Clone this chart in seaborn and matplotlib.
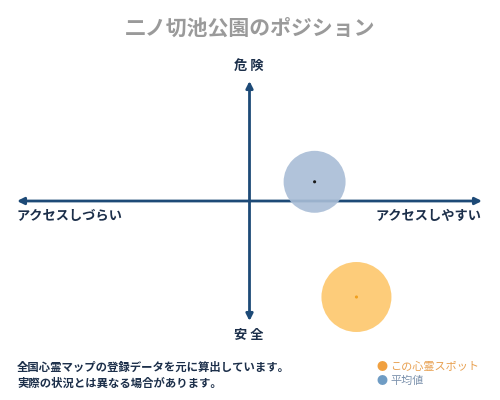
import matplotlib
matplotlib.use("Agg")
import matplotlib.pyplot as plt
import seaborn as sns
import pandas as pd

sns.set_theme(style="white")
plt.rcParams['font.family'] = ['Noto Sans CJK JP', 'DejaVu Sans']

# data
series = ["平均値", "この心霊スポット"]
access = [28, 46]        # -100 = アクセスしづらい, 100 = アクセスしやすい
danger = [16, -80]       # -100 = 安全, 100 = 危険
bubble = [1990, 2540]    # marker area (pt^2)
fill_colors = ["#a9bdd6", "#fdc76c"]
dot_colors = ["#1a1a1a", "#f0a020"]

title = "二ノ切池公園のポジション"
x_labels = ["アクセスしづらい", "アクセスしやすい"]
y_labels = ["安 全", "危 険"]
notes = ["全国心霊マップの登録データを元に算出しています。",
         "実際の状況とは異なる場合があります。"]

df = pd.DataFrame({"series": series, "x": access, "y": danger, "s": bubble})

fig = plt.figure(figsize=(5, 4), dpi=100)
ax = fig.add_axes([17/500, 79/400, 465/500, 240/400])
ax.set_xlim(-100, 100)
ax.set_ylim(-100, 100)
ax.axis("off")

navy = "#1d4a77"
ax.annotate("", xy=(100, 0), xytext=(-100, 0),
            arrowprops=dict(arrowstyle="<|-|>", color=navy, lw=2,
                            mutation_scale=10, shrinkA=0, shrinkB=0))
ax.annotate("", xy=(0, 100), xytext=(0, -100),
            arrowprops=dict(arrowstyle="<|-|>", color=navy, lw=2,
                            mutation_scale=10, shrinkA=0, shrinkB=0))

for i, row in df.iterrows():
    sns.scatterplot(x=[row.x], y=[row.y], s=row.s, color=fill_colors[i],
                    alpha=0.9, edgecolor="none", ax=ax, clip_on=False, zorder=3)
    sns.scatterplot(x=[row.x], y=[row.y], s=5, color=dot_colors[i],
                    edgecolor="none", ax=ax, clip_on=False, zorder=4)

txt = "#1c2f4a"
fig.text(0.5, 1 - 28/400, title, ha="center", va="center", fontsize=15,
         color="#9a9a9a", fontweight="bold")
fig.text(249/500, 1 - 66/400, y_labels[1], ha="center", va="center",
         fontsize=9.5, color=txt, fontweight="bold")
fig.text(249/500, 1 - 335/400, y_labels[0], ha="center", va="center",
         fontsize=9.5, color=txt, fontweight="bold")
fig.text(17/500, 1 - 216/400, x_labels[0], ha="left", va="center",
         fontsize=9.5, color=txt, fontweight="bold")
fig.text(482/500, 1 - 216/400, x_labels[1], ha="right", va="center",
         fontsize=9.5, color=txt, fontweight="bold")

fig.text(17/500, 1 - 367/400, notes[0], ha="left", va="center",
         fontsize=8.2, color=txt, fontweight="bold")
fig.text(17/500, 1 - 383/400, notes[1], ha="left", va="center",
         fontsize=8.2, color=txt, fontweight="bold")

fig.text(382/500, 1 - 367/400, "●", ha="center", va="center",
         fontsize=8, color="#f0a040")
fig.text(390/500, 1 - 367/400, series[1], ha="left", va="center",
         fontsize=8, color="#e8a050")
fig.text(382/500, 1 - 381/400, "●", ha="center", va="center",
         fontsize=8, color="#6f9cc4")
fig.text(390/500, 1 - 381/400, series[0], ha="left", va="center",
         fontsize=8, color="#7c92ad")

fig.savefig("out.png", dpi=100, facecolor="white")
